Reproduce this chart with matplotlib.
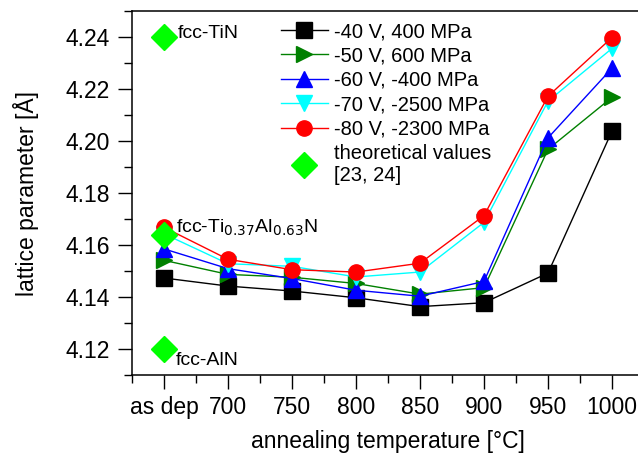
import matplotlib
matplotlib.use("Agg")
import matplotlib.pyplot as plt
from matplotlib.ticker import MultipleLocator, FixedLocator

plt.rcParams['font.family'] = ['Liberation Sans', 'DejaVu Sans']

categories = ["as dep", "700", "750", "800", "850", "900", "950", "1000"]
s40 = [4.1473, 4.1442, 4.1423, 4.1397, 4.1363, 4.1378, 4.1492, 4.2038]
s50 = [4.1541, 4.1487, 4.1476, 4.1452, 4.1411, 4.1436, 4.1968, 4.2168]
s60 = [4.1585, 4.1509, 4.1471, 4.1426, 4.1403, 4.1460, 4.2012, 4.2280]
s70 = [4.1643, 4.1528, 4.1518, 4.1477, 4.1496, 4.1687, 4.2153, 4.2356]
s80 = [4.1668, 4.1545, 4.1505, 4.1496, 4.1530, 4.1713, 4.2172, 4.2398]
series_labels = ["-40 V, 400 MPa", "-50 V, 600 MPa", "-60 V, -400 MPa",
                 "-70 V, -2500 MPa", "-80 V, -2300 MPa"]
theory_values = [4.240, 4.164, 4.120]
theory_labels = ["fcc-TiN", r"fcc-Ti$_{0.37}$Al$_{0.63}$N", "fcc-AlN"]

fig = plt.figure(figsize=(6.38, 4.57), dpi=100)
ax = fig.add_axes([132/638, 82/457, 512/638, 364/457])

x = list(range(len(categories)))
styles = [("black", "s"), ("#008000", ">"), ("#0000ff", "^"),
          ("#00ffff", "v"), ("#ff0000", "o")]
handles = []
for vals, (c, m), lab in zip([s40, s50, s60, s70, s80], styles, series_labels):
    h, = ax.plot(x, vals, color=c, marker=m, markersize=11, lw=1.0,
                 markerfacecolor=c, markeredgecolor=c, label=lab, clip_on=False)
    handles.append(h)

hd, = ax.plot([0]*len(theory_values), theory_values, ls="none", marker="D",
              markersize=13.5, color="#00ff00", label="theoretical values\n[23, 24]",
              clip_on=False, zorder=5)
handles.append(hd)

ax.text(0.22, theory_values[0] + 0.0012, theory_labels[0], fontsize=14, va="center", ha="left")
ax.text(0.18, theory_values[1] + 0.0025, theory_labels[1], fontsize=14, va="center", ha="left")
ax.text(0.18, theory_values[2] - 0.0045, theory_labels[2], fontsize=14, va="center", ha="left")

ax.set_xlim(-0.5, 7.5)
ax.set_ylim(4.11, 4.25)
ax.set_xticks(x)
ax.set_xticklabels(categories)
ax.xaxis.set_minor_locator(FixedLocator([i - 0.5 for i in range(9)]))
ax.set_yticks([4.12, 4.14, 4.16, 4.18, 4.20, 4.22, 4.24])
ax.set_yticklabels(["4.12", "4.14", "4.16", "4.18", "4.20", "4.22", "4.24"])
ax.yaxis.set_minor_locator(MultipleLocator(0.01))

ax.tick_params(which="major", direction="out", length=10, width=1.0, labelsize=16.5)
ax.tick_params(axis="y", which="major", pad=6)
ax.tick_params(axis="x", which="major", pad=5)
ax.tick_params(which="minor", direction="out", length=6, width=1.0)
ax.tick_params(top=False, right=False, which="both")
for s in ["left", "bottom", "top"]:
    ax.spines[s].set_linewidth(1.1)
ax.spines["right"].set_visible(False)

ax.set_xlabel("annealing temperature [°C]", fontsize=16.5, labelpad=8)
ax.set_ylabel("lattice parameter [Å]", fontsize=16.5, labelpad=19)

leg = ax.legend(handles=handles, loc="upper left", bbox_to_anchor=(0.27, 1.0),
                frameon=False, fontsize=14.5, handlelength=2.3, labelspacing=0.27,
                handletextpad=0.3, borderaxespad=0.15)

fig.savefig("out.png", dpi=100)
